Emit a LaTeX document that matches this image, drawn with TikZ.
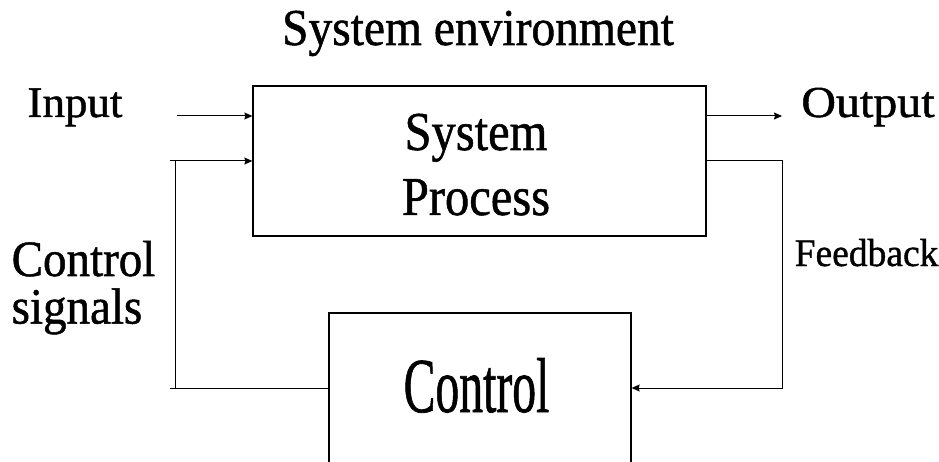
\documentclass[tikz,border=0pt]{standalone}
\usepackage{fontspec}
\setmainfont[FakeBold=1]{Liberation Serif}
\usepackage{graphicx}
\usetikzlibrary{arrows.meta, positioning}
\newcommand{\tall}[2]{\scalebox{1}[#1]{#2}}

\begin{document}
\begin{tikzpicture}[
    x=1pt, y=-1pt,
    >={Stealth[length=8pt, width=7pt, inset=1pt]},
    block/.style={draw=black, line width=1.3pt, minimum width=453pt, minimum height=150pt, inner sep=0pt},
    wire/.style={draw=black, line width=1pt},
    caption/.style={inner sep=0pt, anchor=base, text=black}
  ]
  \clip (0,0) rectangle (939,462);
  \fill[white] (0,0) rectangle (939,462);

  % Bloki
  \node[block] (proc) at (479.5,161) {};
  \node[block, minimum width=302pt, minimum height=180pt] (ctrl) at (480,403) {};

  % Punkty pomocnicze
  \coordinate (inp) at (177,116);
  \coordinate (outp) at (782,116);
  \coordinate (fbk) at (782,388);
  \coordinate (csigB) at (170,388);
  \coordinate (csigT) at (170,161);

  % Wejscie i wyjscie
  \draw[wire, ->] (inp) -- (proc.west |- inp);
  \draw[wire, ->] (proc.east |- outp) -- (outp);

  % Sprzezenie zwrotne
  \draw[wire, ->] (proc.east) -| (fbk) -- (ctrl.east |- fbk);

  % Sygnaly sterujace
  \draw[wire] (ctrl.west |- csigB) -- (csigB);
  \draw[wire] ([xshift=5pt]csigB) -- ([xshift=5pt]csigT);
  \draw[wire, ->] (csigT) -- (proc.west);

  % Etykiety
  \node[caption, font=\fontsize{47.5}{47.5}\selectfont] (envlbl) at (478,45) {\tall{1.09}{System environment}};
  \node[caption, font=\fontsize{45}{45}\selectfont] (inlbl) at (75,117) {\tall{0.97}{Input}};
  \node[caption, font=\fontsize{48}{48}\selectfont] (outlbl) at (868,117) {\tall{0.92}{Output}};
  \node[caption, anchor=base west, font=\fontsize{47}{38}\selectfont] (csiglbl) at (11.5,276)
    {\tall{1.08}{\begin{tabular}[t]{@{}l@{}}Control\\signals\end{tabular}}};
  \node[caption, anchor=base west, font=\fontsize{37.5}{37.5}\selectfont] (fbklbl) at (794.5,266) {\tall{1.04}{Feedback}};
  \node[caption, font=\fontsize{48.5}{57.5}\selectfont] (proclbl) at (476,150)
    {\tall{1.13}{\begin{tabular}[t]{@{}c@{}}System\\Process\end{tabular}}};
  \node[caption, font=\fontsize{47.7}{47.7}\selectfont] (ctrllbl) at (476.5,412) {\tall{1.63}{Control}};

\end{tikzpicture}
\end{document}
